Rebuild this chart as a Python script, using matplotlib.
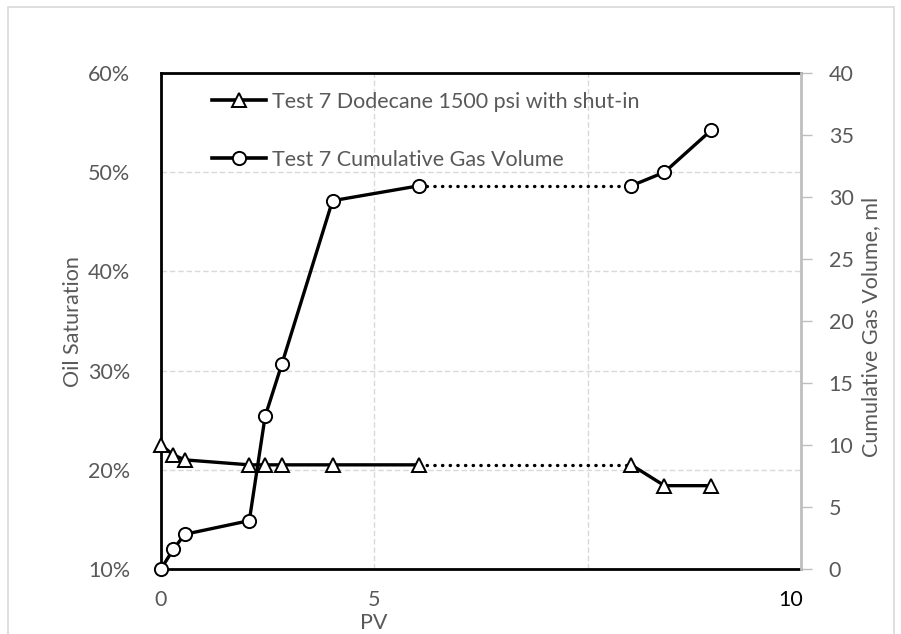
import matplotlib
matplotlib.use('Agg')
import matplotlib.pyplot as plt
from matplotlib.patches import Rectangle

# ── data ────────────────────────────────────────────────────────────
pv = [0.0, 0.29, 0.56, 2.07, 2.44, 2.83, 4.02, 6.04, 11.02, 11.8, 12.9]
oil_sat = [22.5, 21.5, 21.0, 20.5, 20.5, 20.5, 20.5, 20.5, 20.5, 18.4, 18.4]
gas_vol = [0.0, 1.6, 2.8, 3.9, 12.3, 16.5, 29.7, 30.9, 30.9, 32.0, 35.4]
shut_in = (7, 8)  # segment drawn dotted (shut-in period)

label_sat = 'Test 7 Dodecane 1500 psi with shut-in'
label_gas = 'Test 7 Cumulative Gas Volume'

plt.rcParams['font.family'] = ['Lato', 'DejaVu Sans']
grey_txt = '#595959'
grid_c = '#d9d9d9'
fs = 15.5

fig = plt.figure(figsize=(9.01, 6.34), dpi=100)
fig.patches.append(Rectangle((8 / 901, -0.01), 886 / 901, 1.01 - 7 / 634,
                             transform=fig.transFigure, fill=False,
                             edgecolor='#d9d9d9', linewidth=1.2))

ax = fig.add_axes([161 / 901, 65 / 634, 640 / 901, 496 / 634])
ax2 = ax.twinx()

a, b = shut_in
line_kw = dict(color='black', linewidth=2.4, solid_capstyle='round')
dot_kw = dict(color='black', linewidth=2.4, linestyle=(0, (0.1, 2.2)),
              dash_capstyle='round')
mk_kw = dict(color='black', markerfacecolor='white', markeredgewidth=1.4,
             linestyle='none', zorder=5, clip_on=False)

# oil saturation (left axis, in %)
ax.plot(pv[:a + 1], oil_sat[:a + 1], **line_kw)
ax.plot(pv[b:], oil_sat[b:], **line_kw)
ax.plot(pv[a:b + 1], oil_sat[a:b + 1], **dot_kw)
ax.plot(pv, oil_sat, marker='^', markersize=9.5, **mk_kw)

# cumulative gas (right axis)
ax2.plot(pv[:a + 1], gas_vol[:a + 1], **line_kw)
ax2.plot(pv[b:], gas_vol[b:], **line_kw)
ax2.plot(pv[a:b + 1], gas_vol[a:b + 1], **dot_kw)
ax2.plot(pv, gas_vol, marker='o', markersize=9.5, **mk_kw)

ax.set_xlim(0, 15)
ax.set_ylim(10, 60)
ax2.set_ylim(0, 40)

ax.set_xticks([0, 5, 10, 15])
ax.set_xticklabels(['0', '5', '', ''])
ax.set_yticks([10, 20, 30, 40, 50, 60])
ax.set_yticklabels([f'{v}%' for v in [10, 20, 30, 40, 50, 60]])
ax2.set_yticks(range(0, 41, 5))

ax.grid(True, color=grid_c, linestyle=(0, (4, 2)), linewidth=1)
ax.set_axisbelow(True)

ax.tick_params(axis='both', length=0, labelsize=fs, labelcolor=grey_txt)
ax.tick_params(axis='y', pad=22)
ax.tick_params(axis='x', pad=15)
ax2.tick_params(axis='y', length=8, width=1, color='#bfbfbf',
                labelsize=fs, labelcolor=grey_txt, pad=12)

for side in ['left', 'bottom', 'top']:
    ax.spines[side].set_linewidth(2)
    ax.spines[side].set_color('black')
ax.spines['right'].set_visible(False)
for side in ['left', 'bottom', 'top']:
    ax2.spines[side].set_visible(False)
ax2.spines['right'].set_color('#bfbfbf')
ax2.spines['right'].set_linewidth(2)

# "10" label sits at the right end of the axis in black
fig.text(791 / 901, 1 - 600 / 634, '10', ha='center', va='center',
         fontsize=fs, color='black')
fig.text(374 / 901, 1 - 623 / 634, 'PV', ha='center', va='center',
         fontsize=fs, color=grey_txt)
fig.text(73 / 901, 1 - 322 / 634, 'Oil Saturation', rotation=90,
         ha='center', va='center', fontsize=fs, color=grey_txt)
fig.text(871 / 901, 1 - 327 / 634, 'Cumulative Gas Volume, ml', rotation=90,
         ha='center', va='center', fontsize=fs, color=grey_txt)

# legend (no frame, upper left inside the plot)
h1, = ax.plot([], [], marker='^', markersize=9.5, color='black',
              markerfacecolor='white', markeredgewidth=1.4, linewidth=2.6)
h2, = ax.plot([], [], marker='o', markersize=9.5, color='black',
              markerfacecolor='white', markeredgewidth=1.4, linewidth=2.6)
leg = ax2.legend([h1, h2], [label_sat, label_gas], loc='upper left',
                 bbox_to_anchor=(51 / 640, 1 - 19 / 496), frameon=False,
                 fontsize=fs, handlelength=2.5, handletextpad=0.3,
                 labelspacing=1.75, borderaxespad=0, borderpad=0)
for t in leg.get_texts():
    t.set_color(grey_txt)

fig.savefig('out.png', dpi=100)
